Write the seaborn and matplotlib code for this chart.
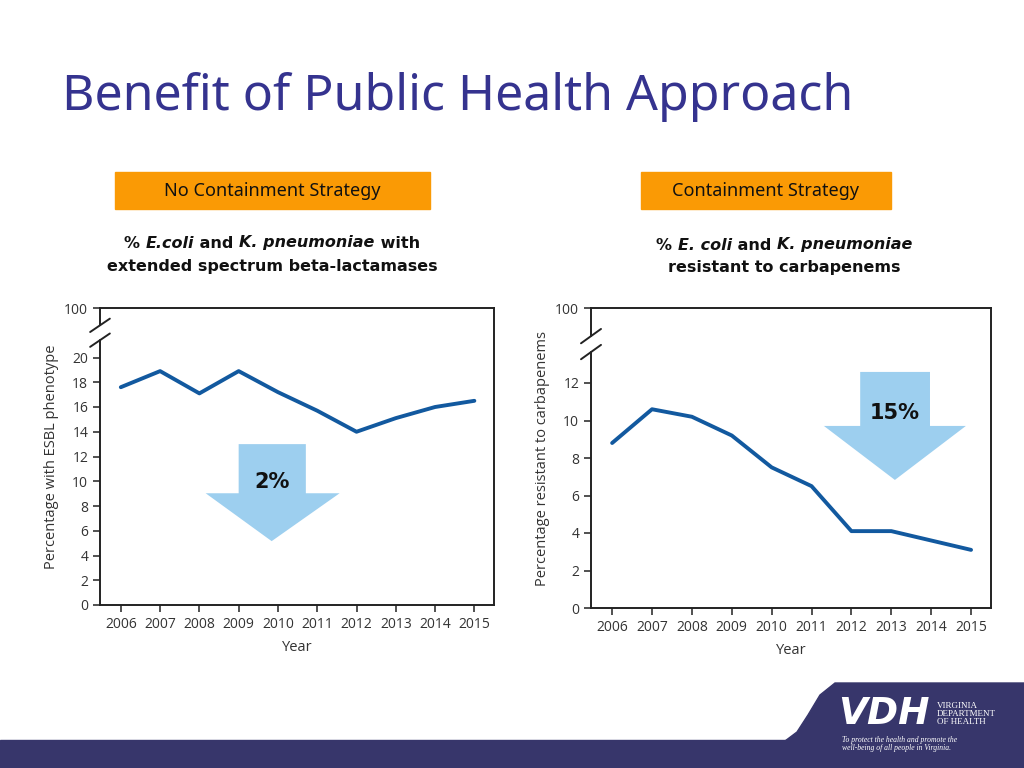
import numpy as np
import pandas as pd
import matplotlib
matplotlib.use("Agg")
import matplotlib.pyplot as plt
import seaborn as sns
from matplotlib.patches import Polygon, Rectangle
import matplotlib.transforms as mtransforms

years = [2006, 2007, 2008, 2009, 2010, 2011, 2012, 2013, 2014, 2015]
esbl_pct = [17.6, 18.9, 17.1, 18.9, 17.2, 15.7, 14.0, 15.1, 16.0, 16.5]
carba_pct = [8.8, 10.6, 10.2, 9.2, 7.5, 6.5, 4.1, 4.1, 3.6, 3.1]

left_ticks = [0, 2, 4, 6, 8, 10, 12, 14, 16, 18, 20]
right_ticks = [0, 2, 4, 6, 8, 10, 12]

sns.set_style("white")
plt.rcParams['font.family'] = ['Open Sans', 'DejaVu Sans']

LINE = '#12599f'
ARROW = '#9dcfef'
TITLE = '#35338f'
ORANGE = '#fa9a05'
NAVY = '#37366b'

fig = plt.figure(figsize=(10.24, 7.68), dpi=100)
renderer = fig.canvas.get_renderer()


def rich_line(xc, y, pieces, size=11.5):
    # draw text pieces (string, italic?) side by side, centred on xc
    objs = []
    for s, it in pieces:
        t = fig.text(0, y, s, fontsize=size, weight='bold', style='italic' if it else 'normal',
                     va='center', ha='left', color='#111111', family='DejaVu Sans')
        objs.append(t)
    widths = [o.get_window_extent(renderer).width / fig.bbox.width for o in objs]
    x = xc - sum(widths) / 2
    for o, w in zip(objs, widths):
        o.set_x(x)
        x += w


# title and header boxes
fig.text(62 / 1024, 1 - 97 / 768, "Benefit of Public Health Approach", fontsize=36,
         color=TITLE, va='center', ha='left', family=['Noto Sans', 'DejaVu Sans'])

for x0, x1, label in [(115, 430, "No Containment Strategy"), (641, 891, "Containment Strategy")]:
    fig.patches.append(Rectangle((x0 / 1024, 1 - 209 / 768), (x1 - x0) / 1024, 37 / 768,
                                 transform=fig.transFigure, color=ORANGE, zorder=0))
    fig.text((x0 + x1) / 2048, 1 - 191 / 768, label, fontsize=13, color='#111111',
             ha='center', va='center', family=['Noto Sans', 'DejaVu Sans'])

rich_line(272 / 1024, 1 - 243 / 768,
          [("% ", False), ("E.coli", True), (" and ", False), ("K. pneumoniae", True), (" with", False)])
rich_line(272 / 1024, 1 - 266 / 768, [("extended spectrum beta-lactamases", False)])
rich_line(784 / 1024, 1 - 245 / 768,
          [("% ", False), ("E. coli", True), (" and ", False), ("K. pneumoniae", True)])
rich_line(784 / 1024, 1 - 268 / 768, [("resistant to carbapenems", False)])

left_arrow = [(2009.0, 13.0), (2010.71, 13.0), (2010.71, 9.03), (2011.57, 9.03),
              (2009.84, 5.16), (2008.16, 9.03), (2009.0, 9.03)]
right_arrow = [(2012.22, 12.59), (2013.97, 12.59), (2013.97, 9.71), (2014.87, 9.71),
               (2013.09, 6.83), (2011.31, 9.71), (2012.22, 9.71)]


def panel(rect, values, ticks, top, brk, ylabel, arrow, label, ty):
    ax = fig.add_axes(rect)
    df = pd.DataFrame({'Year': years, 'Pct': values})
    sns.lineplot(data=df, x='Year', y='Pct', ax=ax, color=LINE, linewidth=2.8, zorder=3)
    ax.set_xlim(2005.47, 2015.5)
    ax.set_ylim(0, top)
    ax.set_xticks(years)
    ax.set_xticklabels([str(y) for y in years])
    ax.set_yticks(ticks + [top])
    ax.set_yticklabels([str(t) for t in ticks] + ['100'])
    ax.tick_params(axis='both', direction='out', length=5, width=1.1, color='#222222',
                   labelsize=10, labelcolor='#333333', left=True, bottom=True)
    ax.set_xlabel('Year', fontsize=10.5, color='#333333', labelpad=6)
    ax.set_ylabel(ylabel, fontsize=10.5, color='#333333', labelpad=4)
    for side in ['top', 'right', 'bottom']:
        ax.spines[side].set_color('#222222')
        ax.spines[side].set_linewidth(1.4)
    ax.spines['left'].set_visible(False)
    trans = mtransforms.blended_transform_factory(ax.transAxes, ax.transData)
    lo, hi = brk
    ax.plot([0, 0], [0, lo], transform=trans, color='#222222', lw=1.4, clip_on=False)
    ax.plot([0, 0], [hi, top], transform=trans, color='#222222', lw=1.4, clip_on=False)
    d = (hi - lo) * 0.45
    for yb in (lo, hi):
        ax.plot([-0.025, 0.025], [yb - d, yb + d], transform=trans, color='#222222',
                lw=1.4, clip_on=False)
    ax.grid(False)
    ax.add_patch(Polygon(arrow, closed=True, color=ARROW, zorder=1, lw=0))
    ax.text(arrow[4][0], ty, label, fontsize=15, weight='bold',
            ha='center', va='center', color='#111111', family='DejaVu Sans', zorder=4)
    return ax


panel([100 / 1024, 163 / 768, 394 / 1024, 297 / 768], esbl_pct, left_ticks, 24,
      (21.4, 22.6), 'Percentage with ESBL phenotype', left_arrow, '2%', 9.9)
panel([591 / 1024, 160 / 768, 400 / 1024, 300 / 768], carba_pct, right_ticks, 16,
      (13.65, 14.5), 'Percentage resistant to carbapenems', right_arrow, '15%', 10.4)

# footer band and logo
fig.patches.append(Rectangle((0, 0), 1, 28 / 768, transform=fig.transFigure,
                             color=NAVY, zorder=0))
logo = [(780, 768), (1024, 768), (1024, 683), (835, 683), (820, 695), (808, 715),
        (797, 732), (785, 741), (780, 742)]
fig.patches.append(Polygon([(x / 1024, 1 - y / 768) for x, y in logo], closed=True,
                           transform=fig.transFigure, color=NAVY, zorder=0))
fig.text(838 / 1024, 1 - 714 / 768, "VDH", fontsize=27, weight='bold', style='italic',
         color='white', va='center', ha='left', family='DejaVu Sans')
fig.text(937 / 1024, 1 - 714 / 768, "VIRGINIA\nDEPARTMENT\nOF HEALTH", fontsize=6.5,
         color='white', va='center', ha='left', family='Liberation Serif', linespacing=1.0)
fig.text(842 / 1024, 1 - 744 / 768,
         "To protect the health and promote the\nwell-being of all people in Virginia.",
         fontsize=5.5, style='italic', color='white', va='center', ha='left',
         family='Liberation Serif', linespacing=1.1)

fig.savefig("out.png", dpi=100)
